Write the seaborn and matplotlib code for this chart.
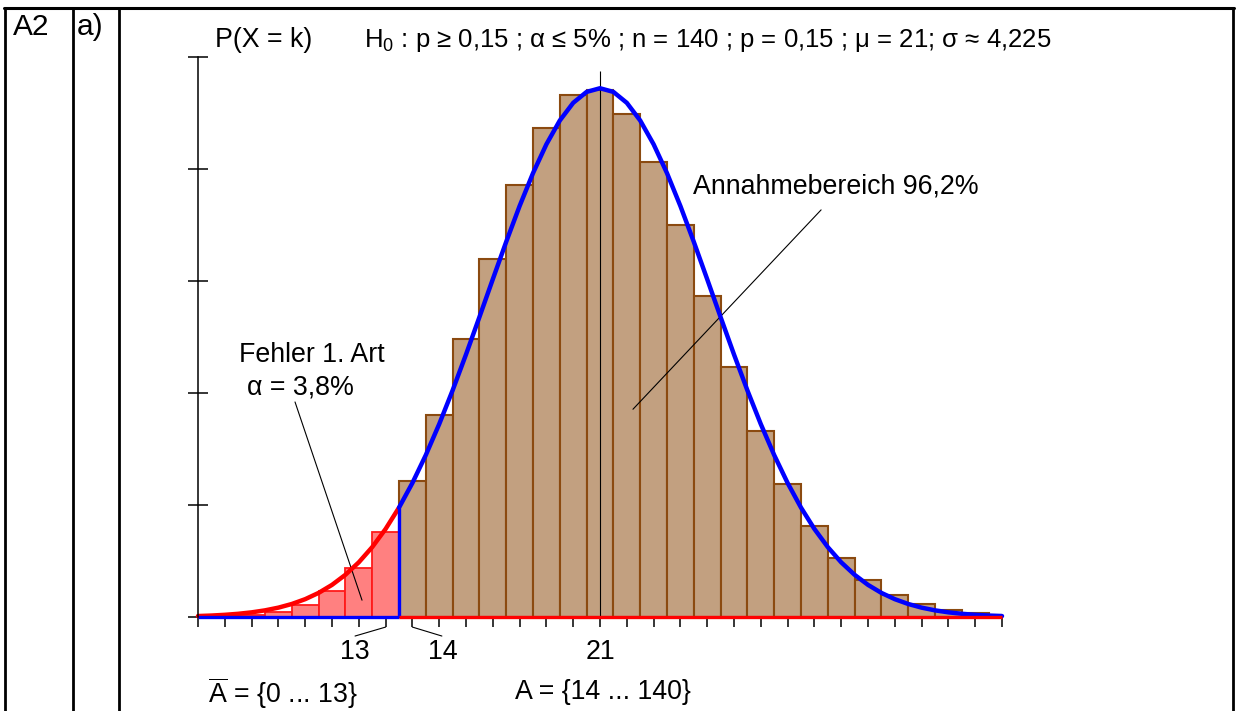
import numpy as np
import pandas as pd
import matplotlib
matplotlib.use("Agg")
import matplotlib.pyplot as plt
import seaborn as sns
from matplotlib.lines import Line2D
from matplotlib.patches import Rectangle

# ---------------- data ----------------
k_values = list(range(6, 37))
prob_values = [0.0000373, 0.000126, 0.000369, 0.000955, 0.002208, 0.004606, 0.008737, 0.015181,
               0.024302, 0.036024, 0.049665, 0.063928, 0.077090, 0.087353, 0.093262, 0.094046,
               0.089771, 0.081276, 0.069921, 0.057253, 0.044689, 0.033298, 0.023714, 0.016162,
               0.010553, 0.006608, 0.003972, 0.002294, 0.001274, 0.000681, 0.000350]
critical_k = 13
mu = 21
curve_x = [6 + 0.5 * i for i in range(61)]
curve_y = [0.000173, 0.000261, 0.000390, 0.000573, 0.000830, 0.001187, 0.001672, 0.002324,
           0.003185, 0.004304, 0.005736, 0.007537, 0.009766, 0.012478, 0.015722, 0.019534,
           0.023933, 0.028914, 0.034446, 0.040466, 0.046876, 0.053548, 0.060317, 0.066998,
           0.073383, 0.079259, 0.084416, 0.088657, 0.091816, 0.093765, 0.094424,
           0.093765, 0.091816, 0.088657, 0.084416, 0.079259, 0.073383, 0.066998, 0.060317,
           0.053548, 0.046876, 0.040466, 0.034446, 0.028914, 0.023933, 0.019534, 0.015722,
           0.012478, 0.009766, 0.007537, 0.005736, 0.004304, 0.003185, 0.002324, 0.001672,
           0.001187, 0.000830, 0.000573, 0.000390, 0.000261, 0.000173]
y_ticks = [0.0, 0.02, 0.04, 0.06, 0.08, 0.10]
labeled_k = [13, 14, 21]

df = pd.DataFrame({"k": k_values, "p": prob_values})
red_df = df[df.k <= critical_k]
brown_df = df[df.k > critical_k]
cdf = pd.DataFrame({"x": curve_x, "y": curve_y})
cut = critical_k + 0.5
red_curve = cdf[cdf.x <= cut]
blue_curve = cdf[cdf.x >= cut]

# ---------------- style ----------------
sns.set_theme(style="white")
plt.rcParams["font.family"] = ["Liberation Sans", "DejaVu Sans"]
plt.rcParams["text.color"] = "black"
plt.rcParams["mathtext.fontset"] = "custom"
plt.rcParams["mathtext.rm"] = "Liberation Sans"
plt.rcParams["mathtext.it"] = "Liberation Sans:italic"
plt.rcParams["mathtext.default"] = "regular"

W, H = 1236, 711
fig = plt.figure(figsize=(W / 100, H / 100), dpi=100)
fig.patch.set_facecolor("white")
ax = fig.add_axes([0, 0, 1, 1])
ax.set_facecolor("white")

def fx(px):
    return px / W

def fy(py):
    return 1 - py / H

FS = 19.3
BROWN_FILL = "#C2A080"
BROWN_EDGE = "#8B4A10"
RED_FILL = "#FF8080"
RED_EDGE = "#FF1A1A"

# bars
sns.histplot(data=red_df, x="k", weights="p", discrete=True, shrink=1, stat="count",
             color=RED_FILL, edgecolor=RED_EDGE, linewidth=1.3, alpha=1, ax=ax, zorder=2)
sns.histplot(data=brown_df, x="k", weights="p", discrete=True, shrink=1, stat="count",
             color=BROWN_FILL, edgecolor=BROWN_EDGE, linewidth=1.5, alpha=1, ax=ax, zorder=2)
clip_rect = Rectangle((k_values[0], -0.01), k_values[-1] - k_values[0], 0.2,
                      transform=ax.transData, visible=False)
ax.add_patch(clip_rect)
for patch in ax.patches:
    if patch is not clip_rect:
        patch.set_clip_path(clip_rect)

# mean marker line
ax.vlines(mu, 0, 0.0975, color="black", lw=0.8, zorder=3)

# curves
sns.lineplot(data=red_curve, x="x", y="y", color="#FF0000", lw=3.2, ax=ax, sort=False, zorder=4)
sns.lineplot(data=blue_curve, x="x", y="y", color="#0000FF", lw=3.2, ax=ax, sort=False, zorder=4)
ax.vlines(cut, 0, blue_curve.y.iloc[0], color="#0000FF", lw=2.4, zorder=5)

# baseline
ax.hlines(0, k_values[0], cut, color="#0000FF", lw=2.4, zorder=5)
ax.hlines(0, cut, k_values[-1], color="#FF0000", lw=2.4, zorder=5)

# axes mapping pixels
ax.set_xlim(6 - 198 / 26.8, 6 + (W - 198) / 26.8)
ax.set_ylim((617 - H) / 5600, 617 / 5600)
ax.set_xlabel("")
ax.set_ylabel("")
for s in ["top", "right"]:
    ax.spines[s].set_visible(False)
ax.spines["left"].set_position(("data", 6))
ax.spines["left"].set_bounds(0, 0.1)
ax.spines["left"].set_color("black")
ax.spines["left"].set_linewidth(1.1)
ax.spines["left"].set_zorder(6)
ax.spines["bottom"].set_position(("data", 0))
ax.spines["bottom"].set_bounds(6, 36)
ax.spines["bottom"].set_color("black")
ax.spines["bottom"].set_linewidth(0.8)
ax.set_xticks(k_values)
ax.set_xticklabels([""] * len(k_values))
ax.set_yticks(y_ticks)
ax.set_yticklabels([""] * len(y_ticks))
ax.tick_params(axis="x", direction="out", length=7, width=1.1, color="black", bottom=True)
ax.tick_params(axis="y", direction="inout", length=14, width=1.1, color="black", left=True)

LEADER = dict(arrowstyle="-", lw=0.8, color="black", shrinkA=0, shrinkB=0)

# tick labels with leaders
ax.text(11.86, -0.0063, "13", ha="center", va="center", fontsize=FS)
ax.annotate("", xy=(labeled_k[0], -0.0018), xytext=(11.86, -0.0034), arrowprops=LEADER)
ax.text(15.14, -0.0063, "14", ha="center", va="center", fontsize=FS)
ax.annotate("", xy=(labeled_k[1], -0.0018), xytext=(15.1, -0.0034), arrowprops=LEADER)
ax.text(labeled_k[2], -0.0063, "21", ha="center", va="center", fontsize=FS)

# annotations
ax.text(10.25, 0.0468, "Fehler 1. Art", ha="center", va="center", fontsize=FS)
ax.text(9.84, 0.0409, "α = 3,8%", ha="center", va="center", fontsize=FS)
ax.annotate("", xy=(12.12, 0.0030), xytext=(9.62, 0.0384), arrowprops=LEADER)
ax.text(24.47, 0.0768, "Annahmebereich 96,2%", ha="left", va="center", fontsize=FS)
ax.annotate("", xy=(22.23, 0.0371), xytext=(29.25, 0.0727), arrowprops=LEADER)

# header texts
fig.text(fx(215), fy(40), "P(X = k)", ha="left", va="center", fontsize=FS)
fig.text(fx(364), fy(40), "H$_0$ : p ≥ 0,15 ; α ≤ 5% ; n = 140 ; p = 0,15 ; μ = 21; σ ≈ 4,225",
         ha="left", va="center", fontsize=18.5)
fig.text(fx(13), fy(27), "A2", ha="left", va="center", fontsize=21.5)
fig.text(fx(77), fy(27), "a)", ha="left", va="center", fontsize=21.5)

# bottom set texts
fig.text(fx(208), fy(693), r"$\overline{\mathrm{A}}$ = {0 ... 13}", ha="left", va="center", fontsize=FS)
fig.text(fx(515), fy(692), "A = {14 ... 140}", ha="left", va="center", fontsize=FS)

# table borders
for x0 in [5, 72.5, 118.5, 1232.5]:
    fig.add_artist(Line2D([fx(x0), fx(x0)], [fy(8), 0], color="black", lw=2.0))
fig.add_artist(Line2D([fx(4), fx(1234)], [fy(8), fy(8)], color="black", lw=2.2))

fig.savefig("out.png", dpi=100)
